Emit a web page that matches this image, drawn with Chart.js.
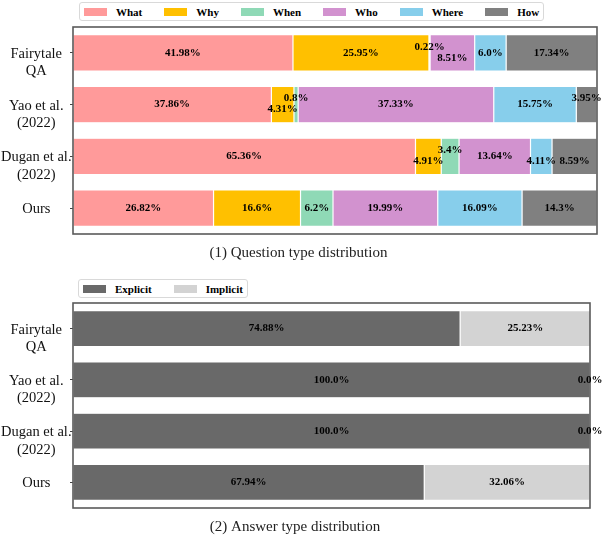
<!DOCTYPE html>
<html>
<head>
<meta charset="utf-8">
<script src="https://cdn.jsdelivr.net/npm/chart.js@4.4.1/dist/chart.umd.min.js"></script>
<style>
  html, body { margin: 0; padding: 0; background: #fff; }
  body { position: relative; width: 602px; height: 536px; overflow: hidden; }
  .box { position: absolute; left: 0; width: 602px; }
  .legend {
    position: absolute; display: flex; align-items: center;
    box-sizing: border-box; height: 19px; padding: 0 4px;
    border: 1px solid #d9d9d9; border-radius: 3px; background: #fff;
    font: bold 11px 'Liberation Serif', 'Times New Roman', serif; color: #000;
  }
  .legend .item { display: flex; align-items: center; margin-right: 22px; }
  .legend .item:last-child { margin-right: 0; }
  .legend .sw { width: 23px; height: 8px; margin-right: 9px; }
</style>
</head>
<body>
<div class="box" style="top:0;height:262px"><canvas id="questionChart"></canvas></div>
<div class="legend" id="questionLegend" style="left:79px;top:2px"></div>
<div class="box" style="top:272px;height:264px"><canvas id="answerChart"></canvas></div>
<div class="legend" id="answerLegend" style="left:78px;top:279px"></div>

<script>
// values (percent per dataset)
const categories = ['Fairytale\nQA', 'Yao et al.\n(2022)', 'Dugan et al.\n(2022)', 'Ours'];

const questionTypes = ['What', 'Why', 'When', 'Who', 'Where', 'How'];
const whatPct  = [41.98, 37.86, 65.36, 26.82];
const whyPct   = [25.95, 4.31, 4.91, 16.6];
const whenPct  = [0.22, 0.8, 3.4, 6.2];
const whoPct   = [8.51, 37.33, 13.64, 19.99];
const wherePct = [6.0, 15.75, 4.11, 16.09];
const howPct   = [17.34, 3.95, 8.59, 14.3];

const answerTypes = ['Explicit', 'Implicit'];
const explicitPct = [74.88, 100.0, 100.0, 67.94];
const implicitPct = [25.23, 0.0, 0.0, 32.06];

const serif = "'Liberation Serif', 'Times New Roman', serif";

// small vertical nudges for labels on thin segments ("dataset-index": px)
const questionLabelShift = {
  '2-0': -6, '3-0': 5,
  '1-1': 5, '2-1': -6, '5-1': -6,
  '1-2': 5, '2-2': -6, '4-2': 5, '5-2': 5
};

function fmt(v) {
  return Number.isInteger(v) ? v.toFixed(1) : String(v);
}

const valueLabels = {
  id: 'valueLabels',
  afterDraw(chart, args, opts) {
    const ctx = chart.ctx;
    const shift = opts.shift || {};
    ctx.save();
    ctx.font = 'bold 11px ' + serif;
    ctx.fillStyle = '#000';
    ctx.textAlign = 'center';
    ctx.textBaseline = 'middle';
    chart.data.datasets.forEach((ds, i) => {
      chart.getDatasetMeta(i).data.forEach((bar, j) => {
        const x = (bar.x + bar.base) / 2;
        const y = bar.y + (shift[i + '-' + j] || 0);
        ctx.fillText(fmt(ds.data[j]) + '%', x, y);
      });
    });
    ctx.restore();
  }
};

const plotFrame = {
  id: 'plotFrame',
  afterDatasetsDraw(chart) {
    const a = chart.chartArea;
    const ctx = chart.ctx;
    ctx.save();
    ctx.strokeStyle = '#5a5a5a';
    ctx.lineWidth = 1.6;
    ctx.strokeRect(a.left, a.top, a.right - a.left, a.bottom - a.top);
    ctx.restore();
  }
};

const htmlLegend = {
  id: 'htmlLegend',
  afterUpdate(chart, args, opts) {
    const box = document.getElementById(opts.containerID);
    box.innerHTML = '';
    const items = chart.options.plugins.legend.labels.generateLabels(chart);
    items.forEach(item => {
      const el = document.createElement('div');
      el.className = 'item';
      const sw = document.createElement('span');
      sw.className = 'sw';
      sw.style.background = item.fillStyle;
      const tx = document.createElement('span');
      tx.textContent = item.text;
      el.appendChild(sw);
      el.appendChild(tx);
      box.appendChild(el);
    });
  }
};

function makeOptions(title, legendId, pad, shift) {
  return {
    indexAxis: 'y',
    responsive: true,
    maintainAspectRatio: false,
    animation: false,
    layout: { padding: pad },
    plugins: {
      legend: { display: false },
      tooltip: { enabled: false },
      htmlLegend: { containerID: legendId },
      valueLabels: { shift: shift },
      title: {
        display: true,
        position: 'bottom',
        text: title,
        color: '#222',
        font: { family: serif, size: 15, weight: 'normal', lineHeight: 1.2 },
        padding: { top: 10, bottom: 0 }
      }
    },
    scales: {
      x: { stacked: true, min: 0, max: 100, display: false },
      y: {
        stacked: true,
        afterFit(scale) { scale.width = 73; },
        border: { display: false },
        grid: { drawOnChartArea: false, drawTicks: true, tickLength: 3, offset: false, color: '#444' },
        ticks: {
          crossAlign: 'center',
          padding: -1.5,
          labelOffset: 10,
          color: '#111',
          font: { family: serif, size: 14.5, lineHeight: 1.2 },
          callback(value) {
            const lines = this.getLabelForValue(value).split('\n');
            if (lines.length < 2) lines.push('');
            return lines;
          }
        }
      }
    }
  };
}

function barSet(label, data, color) {
  return {
    label: label,
    data: data,
    backgroundColor: color,
    borderColor: 'rgba(255,255,255,0.8)',
    borderWidth: 0.6,
    borderSkipped: false,
    categoryPercentage: 1.0,
    barPercentage: 0.7
  };
}

document.addEventListener('DOMContentLoaded', function () {
  const questionColors = ['#FF9A9A', '#FFC000', '#8FD9B6', '#D292CF', '#87CEEB', '#808080'];
  const questionData = [whatPct, whyPct, whenPct, whoPct, wherePct, howPct];
  new Chart(document.getElementById('questionChart').getContext('2d'), {
    type: 'bar',
    data: {
      labels: categories,
      datasets: questionTypes.map((t, i) => barSet(t, questionData[i], questionColors[i]))
    },
    options: makeOptions('(1) Question type distribution', 'questionLegend',
      { top: 27, right: 5, left: 0, bottom: 0 }, questionLabelShift),
    plugins: [plotFrame, valueLabels, htmlLegend]
  });

  const answerColors = ['#696969', '#D3D3D3'];
  const answerData = [explicitPct, implicitPct];
  new Chart(document.getElementById('answerChart').getContext('2d'), {
    type: 'bar',
    data: {
      labels: categories,
      datasets: answerTypes.map((t, i) => barSet(t, answerData[i], answerColors[i]))
    },
    options: makeOptions('(2) Answer type distribution', 'answerLegend',
      { top: 31, right: 12, left: 0, bottom: 0 }, {}),
    plugins: [plotFrame, valueLabels, htmlLegend]
  });
});
</script>
</body>
</html>
